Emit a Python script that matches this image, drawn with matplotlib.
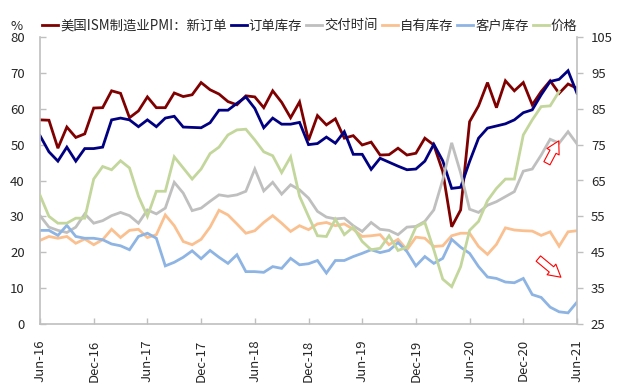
import numpy as np
import pandas as pd
import matplotlib
matplotlib.use("Agg")
import matplotlib.pyplot as plt
from matplotlib.lines import Line2D

plt.rcParams['font.family'] = ['Noto Sans CJK SC', 'DejaVu Sans']

# ---------------- data ----------------
months = pd.date_range('2016-06-01', '2021-06-01', freq='MS')
tick_labels = ['Jun-16', 'Dec-16', 'Jun-17', 'Dec-17', 'Jun-18', 'Dec-18',
               'Jun-19', 'Dec-19', 'Jun-20', 'Dec-20', 'Jun-21']
series_names = ['美国ISM制造业PMI：新订单', '订单库存', '交付时间', '自有库存', '客户库存', '价格']

new_orders = [56.9, 56.8, 49.0, 54.9, 52.0, 53.0, 60.2, 60.3, 65.0, 64.3,
              57.5, 59.4, 63.3, 60.3, 60.3, 64.4, 63.4, 63.9, 67.3, 65.3,
              64.1, 62.0, 61.1, 63.6, 63.3, 60.3, 65.0, 61.8, 57.5, 61.9,
              51.2, 58.1, 55.5, 57.2, 51.8, 52.5, 49.9, 50.7, 47.1, 47.2,
              49.0, 47.1, 47.6, 51.8, 49.9, 42.5, 27.1, 31.8, 56.4, 60.8,
              67.3, 60.3, 67.8, 65.0, 67.3, 61.1, 64.8, 67.8, 64.3, 66.9, 65.7]

backlog = [52.5, 48.0, 45.4, 49.3, 45.4, 48.9, 48.9, 49.3, 56.9, 57.4,
           56.9, 55.0, 56.9, 55.0, 57.4, 57.9, 54.9, 54.8, 54.7, 56.1,
           59.6, 59.6, 61.5, 63.3, 60.1, 54.7, 57.4, 55.7, 55.7, 56.2,
           50.0, 50.3, 52.1, 50.4, 53.6, 47.3, 47.3, 43.1, 46.2, 45.1,
           44.0, 43.0, 43.2, 45.4, 50.1, 45.5, 37.8, 38.1, 45.3, 51.8,
           54.6, 55.2, 55.8, 56.9, 58.9, 59.7, 63.9, 67.6, 68.2, 70.6, 64.3]

deliveries = [30.2, 27.0, 26.1, 25.5, 27.0, 30.7, 28.1, 28.8, 30.2, 31.1,
              30.2, 28.1, 31.8, 30.7, 32.3, 39.5, 36.5, 31.6, 32.3, 34.2,
              36.0, 35.6, 36.0, 37.0, 43.2, 37.1, 39.5, 36.2, 38.8, 37.4,
              35.1, 31.4, 29.8, 29.3, 29.5, 27.4, 25.8, 28.3, 26.4, 26.1,
              24.9, 27.0, 27.2, 28.6, 31.8, 40.2, 50.5, 42.1, 32.0, 31.1,
              33.1, 34.1, 35.5, 36.9, 42.6, 43.2, 47.1, 51.5, 50.4, 53.6, 50.2]

inventories = [23.3, 24.4, 23.9, 24.4, 22.5, 23.7, 22.1, 23.5, 26.4, 24.1,
               26.1, 26.4, 24.1, 24.9, 30.4, 27.4, 23.0, 22.1, 23.6, 27.0,
               31.7, 30.4, 27.9, 25.3, 26.0, 28.3, 30.2, 28.1, 25.8, 27.4,
               26.3, 27.9, 28.3, 27.4, 27.9, 26.4, 24.4, 24.6, 24.9, 22.1,
               23.6, 20.7, 24.2, 23.9, 21.6, 21.8, 24.6, 25.3, 25.3, 21.6,
               19.4, 22.2, 26.8, 26.2, 26.0, 25.9, 24.7, 25.7, 21.7, 25.7, 26.0]

customer_inv = [26.1, 26.1, 24.7, 27.5, 24.4, 23.9, 23.9, 23.5, 22.3, 21.8,
                20.7, 24.4, 25.3, 23.9, 16.2, 17.2, 18.6, 20.4, 18.2, 20.5,
                18.6, 16.9, 19.3, 14.6, 14.6, 14.4, 16.0, 15.5, 18.3, 16.5,
                16.8, 17.7, 14.2, 17.7, 17.7, 18.8, 19.7, 20.7, 19.9, 20.5,
                22.7, 20.2, 16.2, 18.8, 16.9, 18.3, 23.6, 21.4, 19.7, 16.0,
                13.1, 12.7, 11.7, 11.5, 12.7, 8.2, 7.4, 4.7, 3.4, 3.1, 6.1]

prices = [60.9, 55.0, 53.1, 53.1, 54.5, 54.5, 65.4, 68.9, 68.0, 70.5,
          68.5, 60.6, 55.0, 62.0, 62.0, 71.6, 68.5, 65.4, 68.2, 72.5,
          74.3, 77.7, 79.1, 79.3, 76.3, 73.0, 71.9, 67.2, 71.6, 60.6,
          55.0, 49.6, 49.4, 54.2, 49.9, 52.0, 48.0, 45.7, 46.1, 49.6,
          45.5, 46.4, 52.0, 53.3, 45.7, 37.5, 35.4, 41.0, 51.1, 53.6,
          59.4, 62.8, 65.4, 65.4, 77.7, 81.9, 85.6, 85.8, 89.8, np.nan, np.nan]

colors = ['#7F0000', '#000080', '#BFBFBF', '#FAC090', '#8EB4E3', '#C3D69B']

# ---------------- figure ----------------
W, H = 622, 390
fig = plt.figure(figsize=(W / 100, H / 100), dpi=100)
ax = fig.add_axes([40 / W, 1 - 324 / H, 537 / W, 287 / H])
ax2 = ax.twinx()

x = np.arange(len(months))
lw = 2.0
left_series = [new_orders, backlog, deliveries, inventories, customer_inv]
for s, c in zip(left_series, colors[:5]):
    ax.plot(x, s, color=c, lw=lw, solid_joinstyle='miter')
ax2.plot(x, prices, color=colors[5], lw=lw, solid_joinstyle='miter')

ax.set_xlim(0, len(months) - 1)
ax.set_ylim(0, 80)
ax2.set_ylim(25, 105)
ax.set_yticks(np.arange(0, 81, 10))
ax2.set_yticks(np.arange(25, 106, 10))
ax.set_xticks(x[::6])
ax.set_xticklabels(tick_labels, rotation=90)

spine_c = '#BFBFBF'
for a in (ax, ax2):
    a.spines['top'].set_visible(False)
ax.spines['right'].set_visible(False)
ax2.spines['left'].set_visible(False)
ax2.spines['bottom'].set_visible(False)
ax.spines['left'].set_color(spine_c)
ax.spines['bottom'].set_color(spine_c)
ax2.spines['right'].set_color(spine_c)
for sp in (ax.spines['left'], ax.spines['bottom'], ax2.spines['right']):
    sp.set_linewidth(1.2)

lab_c = '#262626'
ax.tick_params(axis='y', direction='in', length=4, width=1.0, color=spine_c,
               pad=11, labelsize=9.5, labelcolor=lab_c)
ax.tick_params(axis='x', direction='in', length=4, width=1.0, color=spine_c,
               pad=11, labelsize=9.5, labelcolor=lab_c)
ax2.tick_params(axis='y', direction='out', length=4, width=1.0, color=spine_c,
                pad=6, labelsize=9.5, labelcolor=lab_c)

# legend
handles = [Line2D([0], [0], color=c, lw=lw) for c in colors]
fig.legend(handles, series_names, loc='center left',
           bbox_to_anchor=(42 / W, 1 - 26 / H), ncol=6, frameon=False,
           handlelength=1.2, handletextpad=0.15, columnspacing=0.3,
           fontsize=9.6, borderpad=0, borderaxespad=0, labelcolor=lab_c)
fig.text(17 / W, 1 - 26 / H, '%', ha='center', va='center', fontsize=9.5, color=lab_c)

# hollow red arrows (annotation marks)
arrow_style = "simple,head_length=0.8,head_width=0.9,tail_width=0.45"
ax.annotate('', xy=(0.966, 0.638), xytext=(0.944, 0.560), xycoords='axes fraction',
            arrowprops=dict(arrowstyle=arrow_style, fc='white', ec='red', lw=0.8,
                            mutation_scale=11, shrinkA=0, shrinkB=0))
ax.annotate('', xy=(0.970, 0.163), xytext=(0.928, 0.228), xycoords='axes fraction',
            arrowprops=dict(arrowstyle=arrow_style, fc='white', ec='red', lw=0.8,
                            mutation_scale=11, shrinkA=0, shrinkB=0))

fig.savefig('out.png', dpi=100, facecolor='white')
